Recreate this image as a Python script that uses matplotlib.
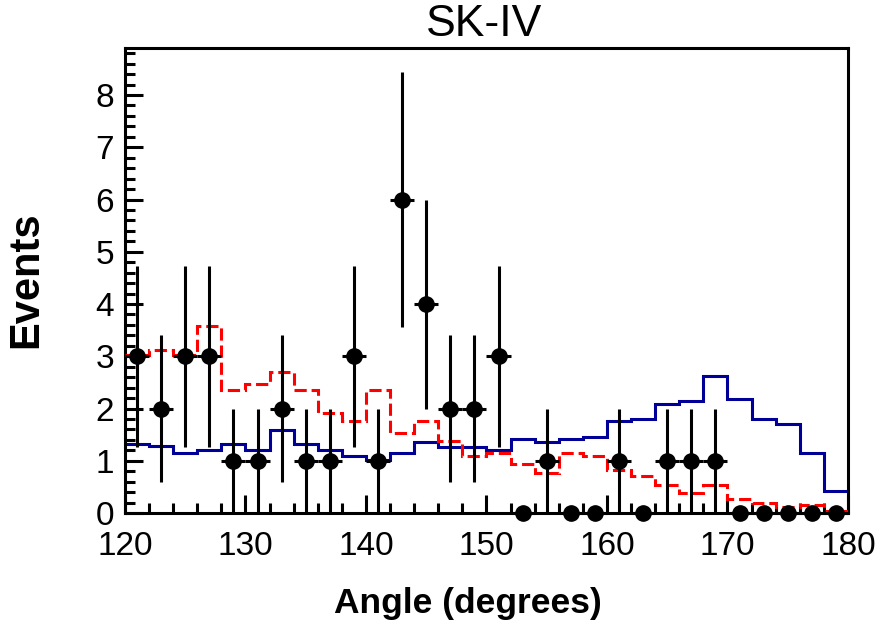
import numpy as np
import matplotlib
matplotlib.use("Agg")
import matplotlib.pyplot as plt
from matplotlib.ticker import MultipleLocator

# Bin edges (2-degree bins from 120 to 180)
edges = np.arange(120, 181, 2)
centers = (edges[:-1] + edges[1:]) / 2

# Observed events
data = [3, 2, 3, 3, 1, 1, 2, 1, 1, 3,
        1, 6, 4, 2, 2, 3, 0, 1, 0, 0,
        1, 0, 1, 1, 1, 0, 0, 0, 0, 0]

# Blue solid histogram
blue = [1.32, 1.28, 1.14, 1.21, 1.32, 1.21, 1.59, 1.32, 1.21, 1.09,
        1.01, 1.14, 1.35, 1.27, 1.27, 1.21, 1.41, 1.36, 1.41, 1.46,
        1.76, 1.80, 2.09, 2.14, 2.63, 2.19, 1.80, 1.70, 1.14, 0.43]

# Red dashed histogram
red = [3.02, 3.12, 3.02, 3.57, 2.35, 2.47, 2.69, 2.35, 1.91, 1.76,
       2.35, 1.53, 1.76, 1.37, 1.10, 1.14, 0.94, 0.76, 1.14, 1.09,
       0.82, 0.71, 0.54, 0.38, 0.54, 0.26, 0.20, 0.12, 0.16, 0.03]

title = "SK-IV"
xlabel = "Angle (degrees)"
ylabel = "Events"

plt.rcParams['font.family'] = ['Liberation Sans', 'DejaVu Sans']

fig = plt.figure(figsize=(8.79, 6.22), dpi=100)
ax = fig.add_axes([125/879, 1-513/622, (848-125)/879, (513-48)/622])

ax.stairs(blue, edges, baseline=None, color='#000099', lw=2.2, zorder=2)
ax.stairs(red, edges, baseline=None, color='#ff0000', lw=2.2,
          linestyle=(0, (4, 1.6)), zorder=3)

d = np.array(data, dtype=float)
err = np.sqrt(d)
ax.errorbar(centers, d, yerr=err, xerr=1.0, fmt='o', color='black',
            ms=11, elinewidth=2.2, capsize=0, zorder=5, clip_on=False)

ax.set_xlim(120, 180)
ax.set_ylim(0, 8.9)
ax.xaxis.set_major_locator(MultipleLocator(10))
ax.xaxis.set_minor_locator(MultipleLocator(2))
ax.yaxis.set_major_locator(MultipleLocator(1))
ax.yaxis.set_minor_locator(MultipleLocator(0.2))
ax.tick_params(which='both', direction='in', top=False, right=False, width=2.2,
               labelsize=24)
ax.tick_params(which='major', length=13)
ax.tick_params(which='minor', length=7)
ax.tick_params(axis='x', which='major', pad=13)
ax.tick_params(axis='y', which='major', pad=8)
for s in ax.spines.values():
    s.set_linewidth(2.2)

fig.text(484/879, 1-25/622, title, ha='center', va='center', fontsize=32)
fig.text(468/879, 1-603/622, xlabel, ha='center', va='center', fontsize=25.5,
         fontweight='bold')
fig.text(26/879, 1-280/622, ylabel, ha='center', va='center', fontsize=30,
         fontweight='bold', rotation=90)

fig.savefig('out.png', dpi=100)
